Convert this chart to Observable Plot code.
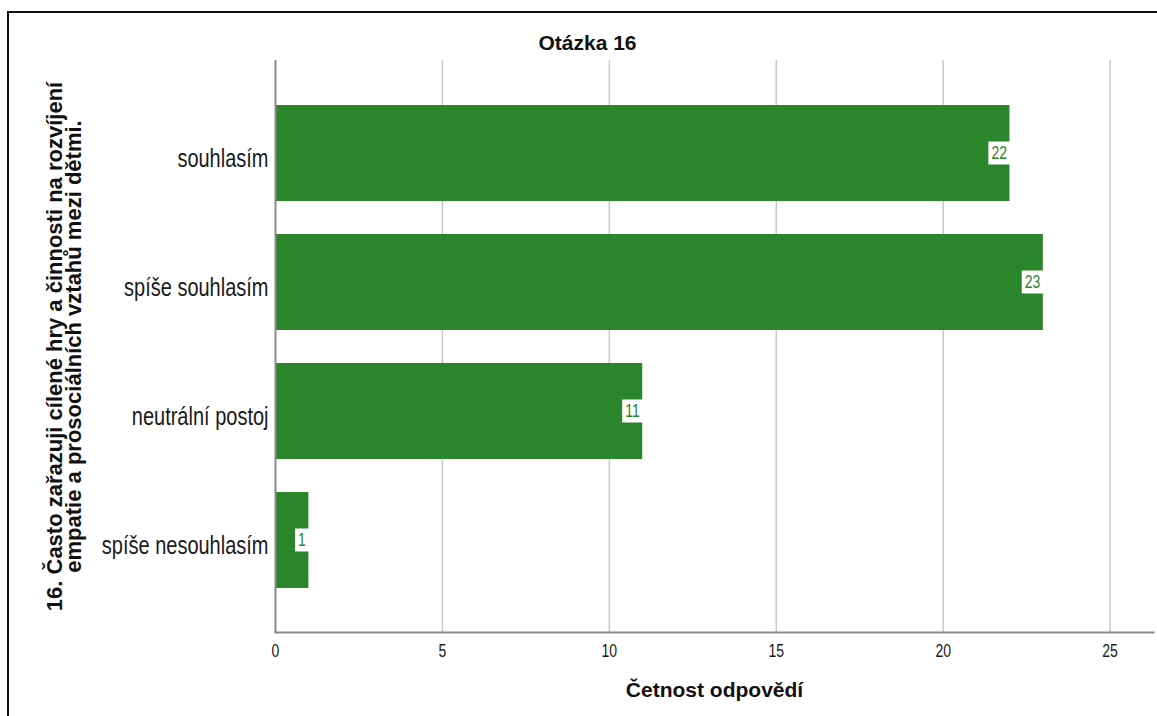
<!DOCTYPE html>
<html>
<head>
<meta charset="utf-8">
<script src="https://cdn.jsdelivr.net/npm/d3@7"></script>
<script src="https://cdn.jsdelivr.net/npm/@observablehq/plot@0.6"></script>
<style>
  body { margin: 0; background: #fff; }
  #wrap { position: relative; width: 1157px; height: 716px; overflow: hidden; background: #fff; }
  #border { position: absolute; left: 7px; top: 11px; width: 1300px; height: 900px;
            border-left: 2px solid #111; border-top: 2px solid #111; pointer-events: none; }
</style>
</head>
<body>
<div id="wrap"><div id="chart"></div><div id="border"></div></div>
<script>
// Answer categories (top to bottom) and their response counts
const answers = ["souhlasím", "spíše souhlasím", "neutrální postoj", "spíše nesouhlasím"];
const counts = [22, 23, 11, 1];
const xTicks = [0, 5, 10, 15, 20, 25];

const title = "Otázka 16";
const xTitle = "Četnost odpovědí";
const yTitle = "16. Často zařazuji cílené hry a činnosti na rozvíjení\nempatie a prosociálních vztahů mezi dětmi.";

const rows = answers.map((a, i) => ({answer: a, count: counts[i]}));
const green = "#2b862b";
const font = "'Liberation Sans', Arial, sans-serif";

const chart = Plot.plot({
  width: 1157,
  height: 716,
  marginTop: 60,
  marginRight: 4,
  marginBottom: 84,
  marginLeft: 275,
  style: {fontFamily: font, background: "#fff", color: "#1a1a1a"},
  x: {domain: [0, 26.3]},
  y: {domain: answers, paddingInner: 0.256, paddingOuter: 0.341},
  marks: [
    Plot.gridX(xTicks.filter((t) => t > 0), {stroke: "#c8c8c8", strokeOpacity: 1, strokeWidth: 1.5}),
    Plot.barX(rows, {x: "count", y: "answer", fill: green}),
    Plot.ruleX([0], {stroke: "#8a8a8a", strokeWidth: 2}),
    Plot.frame({anchor: "bottom", stroke: "#8a8a8a", strokeWidth: 2}),
    Plot.axisX({ticks: xTicks, tickSize: 0, tickPadding: 12, fontSize: 14, label: null}),
    Plot.axisY({tickSize: 0, tickPadding: 7, fontSize: 20, label: null, dy: 5}),
    // value labels at the end of each bar
    Plot.text(rows, {x: "count", y: "answer", text: (d) => String(d.count), textAnchor: "end",
                     dx: -3, fill: green, fontSize: 14}),
    Plot.text([title], {frameAnchor: "top", lineAnchor: "middle", dx: -127, dy: -17,
                        fontSize: 21, fontWeight: "bold", fill: "#111"}),
    Plot.text([xTitle], {frameAnchor: "bottom", lineAnchor: "middle", dy: 58,
                         fontSize: 21, fontWeight: "bold", fill: "#111"}),
    Plot.text([yTitle], {frameAnchor: "left", rotate: -90, textAnchor: "middle", lineAnchor: "top",
                         lineHeight: 0.9, dx: -228, fontSize: 22, fontWeight: "bold", fill: "#111"})
  ]
});

document.getElementById("chart").append(chart);

// white boxes behind the bar value labels
const labelGroup = chart.querySelectorAll('g[aria-label="text"]')[0];
labelGroup.querySelectorAll("text").forEach((t) => {
  const b = t.getBBox();
  const r = document.createElementNS("http://www.w3.org/2000/svg", "rect");
  r.setAttribute("x", b.x - 3);
  r.setAttribute("y", b.y + b.height / 2 - 11.5);
  r.setAttribute("width", b.width + 6);
  r.setAttribute("height", 23);
  r.setAttribute("fill", "#fff");
  const tf = t.getAttribute("transform");
  if (tf) r.setAttribute("transform", tf);
  labelGroup.insertBefore(r, t);
});

// tall, slightly condensed look of the small labels
function stretch(nodes, s) {
  nodes.forEach((t) => {
    const tf = t.getAttribute("transform");
    if (tf) t.setAttribute("transform", tf + ` scale(1,${s})`);
    else {
      const x = +t.getAttribute("x") || 0, y = +t.getAttribute("y") || 0;
      t.setAttribute("transform", `translate(${x},${y}) scale(1,${s}) translate(${-x},${-y})`);
    }
  });
}
stretch(chart.querySelectorAll('g[aria-label="y-axis tick label"] text'), 1.25);
stretch(chart.querySelectorAll('g[aria-label="x-axis tick label"] text'), 1.25);
stretch(labelGroup.querySelectorAll("text"), 1.25);
</script>
</body>
</html>
